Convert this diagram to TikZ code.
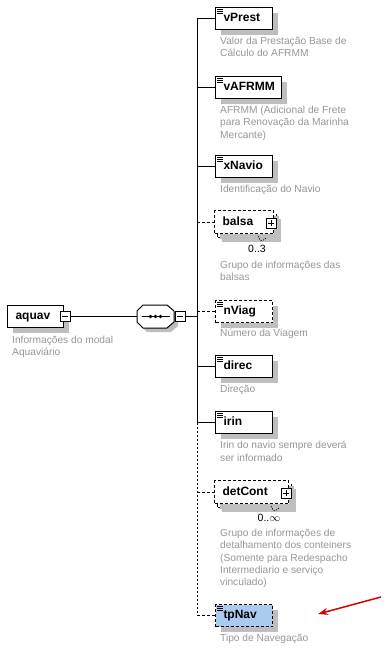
\documentclass[tikz,border=0pt]{standalone}
\usepackage{fontspec}
\setmainfont{Liberation Sans}
\usetikzlibrary{shadows,arrows.meta}
\definecolor{descgray}{RGB}{150,150,150}
\definecolor{shadowgray}{RGB}{190,190,190}
\definecolor{selblue}{RGB}{170,202,240}
\newcommand{\elicon}[1]{%
  \foreach \dy in {2.5,4.5,6.5}{\draw[line width=0.7pt] ([xshift=2pt,yshift=-\dy pt]#1.north west) -- ++(6,0);}}
\begin{document}
\begin{tikzpicture}[x=1pt,y=-1pt,
  elem/.style={draw=black, line width=1.1pt, fill=white, minimum height=22pt, inner xsep=8pt, inner ysep=0pt,
    anchor=north west, font=\fontsize{12}{14}\selectfont\bfseries, text height=8.5pt, text depth=2.5pt, align=left,
    drop shadow={shadow xshift=5pt, shadow yshift=-5pt, fill=shadowgray, opacity=1}},
  optelem/.style={elem, dash pattern=on 3pt off 2pt, line width=1pt},
  backbox/.style={draw=black, line width=1pt, dash pattern=on 3pt off 2pt, fill=white, anchor=north west, inner sep=0pt},
  pm/.style={draw=black, line width=0.8pt, fill=white, minimum size=10pt, inner sep=0pt},
  desc/.style={anchor=north west, inner sep=0pt, align=left, text=descgray, font=\fontsize{10.2}{12.3}\selectfont},
  mult/.style={inner sep=0pt, font=\fontsize{10.5}{12}\selectfont},
  conn/.style={line width=1pt},
  optconn/.style={line width=1pt, dash pattern=on 3pt off 2pt}]
\useasboundingbox (0,0) rectangle (384,648);

% root element
\node[elem, text width=40pt] (aquav) at (7,305) {aquav};
\node[pm] (aqm) at (65,316.5) {};
\draw[line width=0.8pt] ([xshift=-3pt]aqm.center) -- ([xshift=3pt]aqm.center);
\node[desc] (aquavd) at (12,336) {Informações do modal\\Aquaviário};

% sequence compositor (drawn directly)
\fill[shadowgray] (147,309) -- (171,309) -- (178,315) -- (178,326) -- (171,332) -- (147,332) -- (141,326) -- (141,315) -- cycle;
\draw[line width=1pt, fill=white] (143,305) -- (167,305) -- (174,311) -- (174,322) -- (167,328) -- (143,328) -- (137,322) -- (137,311) -- cycle;
\coordinate (seqW) at (137,316.5);
\coordinate (seqc) at (155.5,316.5);
\draw[line width=1pt] ([xshift=-14pt]seqc) -- ([xshift=14pt]seqc);
\foreach \dx in {-5,0,5}{\fill ([xshift=\dx pt]seqc) circle (1.8pt);}
\node[pm] (sqm) at (180,316.5) {};
\draw[line width=0.8pt] ([xshift=-3pt]sqm.center) -- ([xshift=3pt]sqm.center);
\draw[conn] (aqm.east) -- (seqW);

% children
\node[elem, text width=41pt] (vPrest) at (215,7) {vPrest};
\node[elem, text width=50pt] (vAFRMM) at (215,76) {vAFRMM};
\node[elem, text width=41pt] (xNavio) at (215,155) {xNavio};
\node[backbox, minimum width=59pt, minimum height=23pt, drop shadow={shadow xshift=4pt, shadow yshift=-4pt, fill=shadowgray, opacity=1}] (balsab) at (217,214) {};
\node[optelem, text width=43pt, minimum height=23pt, drop shadow={opacity=0}] (balsa) at (214,210) {balsa};
\node[pm] (balsap) at (271,223) {};
\draw[line width=0.8pt] ([xshift=-3pt]balsap.center) -- ([xshift=3pt]balsap.center) ([yshift=-3pt]balsap.center) -- ([yshift=3pt]balsap.center);
\draw[line width=0.6pt, dash pattern=on 1.5pt off 1pt] (258,236) .. controls (261,242) .. (266,238);
\node[mult] (balsam) at (257,249) {0..3};
\node[optelem, text width=41pt] (nViag) at (215,300) {nViag};
\node[elem, text width=41pt] (direc) at (215,355) {direc};
\node[elem, text width=41pt] (irin) at (215,411) {irin};
\node[backbox, minimum width=74pt, minimum height=23pt, drop shadow={shadow xshift=4pt, shadow yshift=-4pt, fill=shadowgray, opacity=1}] (detContb) at (217,484) {};
\node[optelem, text width=58pt, minimum height=23pt, drop shadow={opacity=0}] (detCont) at (214,480) {detCont};
\node[pm] (detContp) at (286,493) {};
\draw[line width=0.8pt] ([xshift=-3pt]detContp.center) -- ([xshift=3pt]detContp.center) ([yshift=-3pt]detContp.center) -- ([yshift=3pt]detContp.center);
\draw[line width=0.6pt, dash pattern=on 1.5pt off 1pt] (271,506) .. controls (274,512) .. (279,508);
\node[mult] (detContm) at (269,518) {0..$\infty$};
\node[optelem, fill=selblue, text width=41pt] (tpNav) at (215,604) {tpNav};

\foreach \n in {vPrest,vAFRMM,xNavio,nViag,direc,irin,tpNav}{\elicon{\n}}

% vertical bus
\coordinate (bus) at (197,316.5);
\draw[conn] (vPrest.west -| bus) -- (irin.west -| bus);
\draw[line width=1pt, dash pattern=on 2pt off 2pt] (irin.west -| bus) -- (tpNav.west -| bus);
\draw[conn] (sqm.east) -- (bus);
\draw[conn] (vPrest.west -| bus) -- (vPrest.west);
\draw[conn] (vAFRMM.west -| bus) -- (vAFRMM.west);
\draw[conn] (xNavio.west -| bus) -- (xNavio.west);
\draw[optconn] (balsa.west -| bus) -- (balsa.west);
\draw[optconn] (nViag.west -| bus) -- (nViag.west);
\draw[conn] (direc.west -| bus) -- (direc.west);
\draw[conn] (irin.west -| bus) -- (irin.west);
\draw[optconn] (detCont.west -| bus) -- (detCont.west);
\draw[optconn] (tpNav.west -| bus) -- (tpNav.west);

% descriptions
\node[desc] (vPrestd) at (220,37) {Valor da Prestação Base de\\Cálculo do AFRMM};
\node[desc] (vAFRMMd) at (220,106) {AFRMM (Adicional de Frete\\para Renovação da Marinha\\Mercante)};
\node[desc] (xNaviod) at (220,185) {Identificação do Navio};
\node[desc] (balsad) at (220,261) {Grupo de informações das\\balsas};
\node[desc] (nViagd) at (220,329) {Número da Viagem};
\node[desc] (direcd) at (220,385) {Direção};
\node[desc] (irind) at (220,441) {Irin do navio sempre deverá\\ser informado};
\node[desc] (detContd) at (220,529) {Grupo de informações de\\detalhamento dos conteiners\\(Somente para Redespacho\\Intermediario e serviço\\vinculado)};
\node[desc] (tpNavd) at (220,634) {Tipo de Navegação};

% red arrow
\coordinate (arrS) at (381,597);
\coordinate (arrE) at (318,614);
\draw[red!85!black, line width=1.5pt, -{Stealth[length=10pt,width=7pt]}] (arrS) -- (arrE);
\end{tikzpicture}
\end{document}
